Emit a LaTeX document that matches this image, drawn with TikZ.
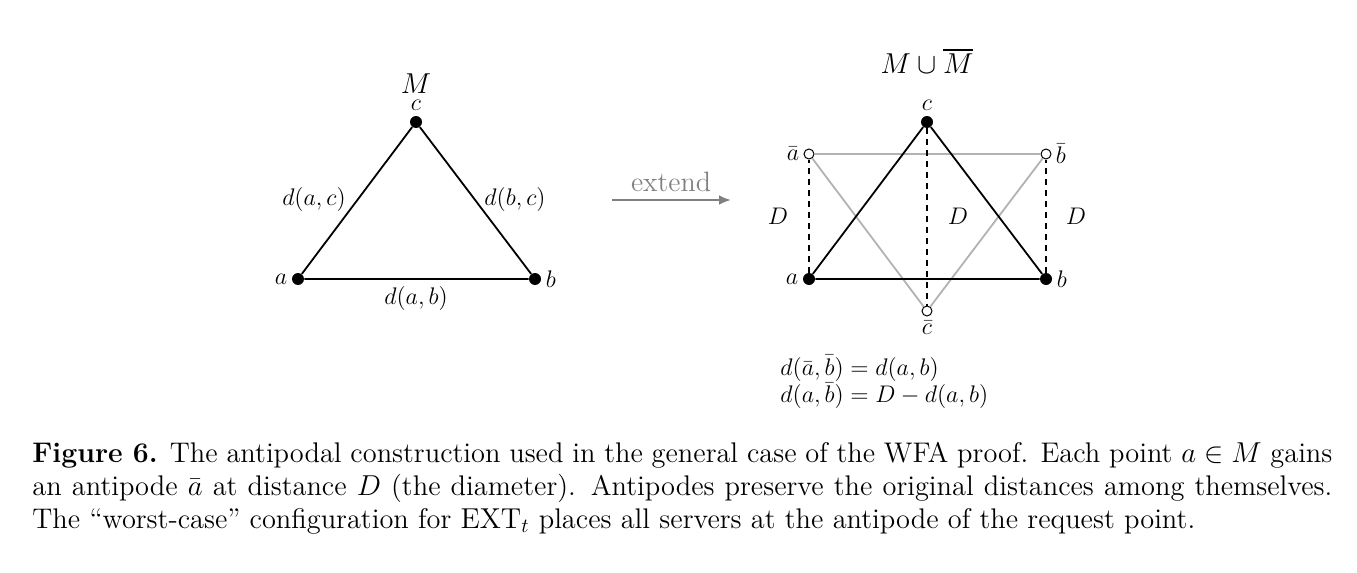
\documentclass[tikz,border=0pt]{standalone}
\usepackage{amsmath}
\usetikzlibrary{arrows.meta}
\begin{document}
\begin{tikzpicture}[x=0.5pt,y=-0.5pt,
 full/.style={circle,fill=black,inner sep=0pt,minimum size=6pt},
 hollow/.style={circle,draw=black,fill=white,inner sep=0pt,minimum size=5pt,line width=0.5pt},
 edge/.style={line width=0.9pt},
 gedge/.style={line width=0.9pt,gray!60},
 dedge/.style={line width=0.9pt,dash pattern=on 3pt off 2.5pt},
 lab/.style={font=\fontsize{12}{14}\selectfont,inner sep=2pt},
 big/.style={font=\fontsize{14}{16}\selectfont}]
\useasboundingbox (0,0) rectangle (1357,573);
% left
\node[full] (a) at (298,279) {};
\node[full] (b) at (535,279) {};
\node[full] (c) at (416,122) {};
\draw[edge] (a)--(b) (b)--(c) (c)--(a);
\node[lab,left] at (a.west) {$a$};
\node[lab,right] at (b.east) {$b$};
\node[lab] at (416,105) {$c$};
\node[big] at (416,84) {$M$};
\node[lab] at (314,199) {$d(a,c)$};
\node[lab] at (515,199) {$d(b,c)$};
\node[lab] at (416,298) {$d(a,b)$};
% arrow
\coordinate (s) at (612,200); \coordinate (t) at (731,200);
\draw[-{Latex[length=6pt,width=5pt]},gray,line width=1.2pt] (s)--(t);
\node[gray,big] at (671,182) {extend};
% right
\node[full] (A) at (809,279) {};
\node[full] (B) at (1046,279) {};
\node[full] (C) at (927,122) {};
\node[hollow] (Ab) at (809,154) {};
\node[hollow] (Bb) at (1046,154) {};
\node[hollow] (Cb) at (927,311) {};
\draw[gedge] (Ab)--(Bb) (Bb)--(Cb) (Cb)--(Ab);
\draw[edge] (A)--(B) (B)--(C) (C)--(A);
\draw[dedge] (A)--(Ab) (B)--(Bb) (C)--(Cb);
\node[lab,left] at (A.west) {$a$};
\node[lab,right] at (B.east) {$b$};
\node[lab] at (927,105) {$c$};
\node[lab,left] at (Ab.west) {$\bar a$};
\node[lab,right] at (Bb.east) {$\bar b$};
\node[lab] at (927,328) {$\bar c$};
\node[lab] at (778,216) {$D$};
\node[lab] at (958,216) {$D$};
\node[lab] at (1076,216) {$D$};
\node[big] at (927,61) {$M\cup\overline{M}$};
\node[lab,anchor=west,align=left,font=\fontsize{12}{10.5}\selectfont] at (776,382) {$d(\bar a,\bar b)=d(a,b)$\\$d(a,\bar b)=D-d(a,b)$};
% caption
\node[anchor=north west,inner sep=0pt,text width=650pt,align=justify,font=\fontsize{14.2}{16.5}\selectfont] at (32,442)
{\textbf{Figure 6.} The antipodal construction used in the general case of the WFA proof. Each point $a\in M$ gains an antipode $\bar a$ at distance $D$ (the diameter). Antipodes preserve the original distances among themselves. The ``worst-case'' configuration for $\mathrm{EXT}_t$ places all servers at the antipode of the request point.};
\end{tikzpicture}
\end{document}
